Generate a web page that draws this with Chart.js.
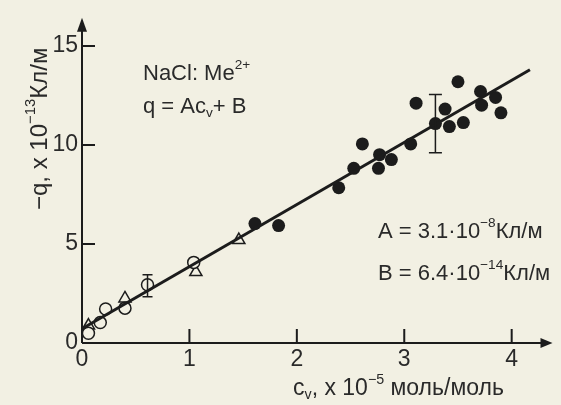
<!DOCTYPE html>
<html>
<head>
<meta charset="utf-8">
<script src="https://cdn.jsdelivr.net/npm/chart.js@4"></script>
<style>
  html, body { margin: 0; padding: 0; background: #f2f0e3; }
  canvas { display: block; }
</style>
</head>
<body>
<canvas id="chart" width="561" height="405"></canvas>
<script>
// values
const filledX = [1.61, 1.83, 2.39, 2.53, 2.61, 2.77, 2.76, 2.88, 3.06, 3.11, 3.29, 3.38, 3.42, 3.50, 3.55, 3.71, 3.72, 3.85, 3.90];
const filledY = [6.03, 5.93, 7.84, 8.82, 10.05, 9.51, 8.82, 9.26, 10.05, 12.11, 11.08, 11.81, 10.93, 13.19, 11.13, 12.70, 12.01, 12.40, 11.62];
const openX = [0.06, 0.17, 0.22, 0.40, 0.61, 1.04];
const openY = [0.49, 1.03, 1.72, 1.76, 2.94, 4.07];
const triX = [0.06, 0.40, 1.06, 1.46];
const triY = [0.88, 2.25, 3.58, 5.20];
const fitX = [0, 4.17];
const fitY = [0.72, 13.8];
const errX = [0.61, 3.29];
const errLo = [2.33, 9.61];
const errHi = [3.45, 12.55];
const xTicks = [0, 1, 2, 3, 4];
const yTicks = [0, 5, 10, 15];

const BG = '#f2f0e3';
const INK = '#1c1c1c';
const FONT = '"Liberation Sans Narrow", "Liberation Sans", sans-serif';

const pts = (xs, ys) => xs.map((x, i) => ({ x: x, y: ys[i] }));

// draw a line of text made of normal / sup / sub pieces
function drawRuns(ctx, x, y, runs, size) {
    let cx = x;
    runs.forEach(r => {
        const kind = r[1] || '';
        const s = kind ? size * 0.62 : size;
        ctx.font = s + 'px ' + FONT;
        let dy = 0;
        if (kind === 'sup') dy = -size * 0.5;
        if (kind === 'sub') dy = size * 0.18;
        ctx.fillText(r[0], cx, y + dy);
        cx += ctx.measureText(r[0]).width;
    });
}

const decorPlugin = {
    id: 'decor',
    beforeDatasetsDraw(chart) {
        const ctx = chart.ctx;
        const xs = chart.scales.x, ys = chart.scales.y;
        const a = chart.chartArea;
        const x0 = xs.getPixelForValue(0), y0 = ys.getPixelForValue(0);
        ctx.save();
        ctx.strokeStyle = INK;
        ctx.fillStyle = INK;
        ctx.lineWidth = 2;
        ctx.beginPath();
        ctx.moveTo(x0, y0);
        ctx.lineTo(a.right - 8, y0);
        ctx.moveTo(x0, y0);
        ctx.lineTo(x0, a.top + 10);
        ctx.stroke();
        // arrows
        ctx.beginPath();
        ctx.moveTo(a.right, y0);
        ctx.lineTo(a.right - 12, y0 - 5);
        ctx.lineTo(a.right - 12, y0 + 5);
        ctx.closePath();
        ctx.fill();
        ctx.beginPath();
        ctx.moveTo(x0, a.top);
        ctx.lineTo(x0 - 5, a.top + 14);
        ctx.lineTo(x0 + 5, a.top + 14);
        ctx.closePath();
        ctx.fill();
        // inward ticks
        ctx.beginPath();
        xTicks.slice(1).forEach(v => {
            const p = xs.getPixelForValue(v);
            ctx.moveTo(p, y0);
            ctx.lineTo(p, y0 - 14);
        });
        yTicks.slice(1).forEach(v => {
            const p = ys.getPixelForValue(v);
            ctx.moveTo(x0, p);
            ctx.lineTo(x0 + 13, p);
        });
        ctx.stroke();
        ctx.restore();
    },
    afterDatasetsDraw(chart) {
        const ctx = chart.ctx;
        const xs = chart.scales.x, ys = chart.scales.y;
        ctx.save();
        ctx.strokeStyle = INK;
        ctx.lineWidth = 1.5;
        ctx.beginPath();
        errX.forEach((x, i) => {
            const px = xs.getPixelForValue(x);
            const lo = ys.getPixelForValue(errLo[i]);
            const hi = ys.getPixelForValue(errHi[i]);
            const w = i === 0 ? 5 : 6.5;
            ctx.moveTo(px, lo); ctx.lineTo(px, hi);
            ctx.moveTo(px - w, lo); ctx.lineTo(px + w, lo);
            ctx.moveTo(px - w, hi); ctx.lineTo(px + w, hi);
        });
        ctx.stroke();

        ctx.fillStyle = '#2a2a2a';
        ctx.textBaseline = 'alphabetic';
        drawRuns(ctx, 143, 80, [['NaCl: Me'], ['2+', 'sup']], 22);
        drawRuns(ctx, 143, 113, [['q = Ac'], ['v', 'sub'], ['+ B']], 22);
        drawRuns(ctx, 378, 238, [['A = 3.1·10'], ['−8', 'sup'], ['Кл/м']], 22);
        drawRuns(ctx, 378, 280, [['B = 6.4·10'], ['−14', 'sup'], ['Кл/м']], 22);
        drawRuns(ctx, 293, 395, [['c'], ['v', 'sub'], [', x 10'], ['−5', 'sup'], [' моль/моль']], 23);
        ctx.translate(47, 210);
        ctx.rotate(-Math.PI / 2);
        drawRuns(ctx, 0, 0, [['−q, x 10'], ['−13', 'sup'], ['Кл/м']], 24);
        ctx.restore();
    }
};

// put the ticks exactly at the listed values
const onlyTicks = list => scale => {
    scale.ticks = list.map(v => ({ value: v }));
};

new Chart(document.getElementById('chart'), {
    type: 'scatter',
    data: {
        datasets: [
            {
                type: 'line',
                data: pts(fitX, fitY),
                borderColor: INK,
                borderWidth: 3,
                pointRadius: 0,
                clip: false
            },
            {
                data: pts(openX, openY),
                pointStyle: 'circle',
                pointRadius: 6,
                borderColor: INK,
                borderWidth: 1.5,
                backgroundColor: BG,
                clip: false
            },
            {
                data: pts(triX, triY),
                pointStyle: 'triangle',
                pointRadius: 7,
                borderColor: INK,
                borderWidth: 1.5,
                backgroundColor: BG,
                clip: false
            },
            {
                data: pts(filledX, filledY),
                pointStyle: 'circle',
                pointRadius: 6.5,
                borderColor: INK,
                borderWidth: 0,
                backgroundColor: INK,
                clip: false
            }
        ]
    },
    options: {
        responsive: false,
        animation: false,
        devicePixelRatio: 1,
        layout: { padding: { top: 8, right: 2, left: 0, bottom: 0 } },
        plugins: {
            legend: { display: false },
            tooltip: { enabled: false }
        },
        scales: {
            x: {
                type: 'linear',
                min: 0,
                max: 4.38,
                grid: { display: false, drawTicks: false },
                border: { display: false },
                ticks: {
                    stepSize: 1,
                    padding: 3,
                    color: '#2a2a2a',
                    font: { family: FONT, size: 23 }
                },
                afterBuildTicks: onlyTicks(xTicks),
                afterFit(scale) { scale.height = 62; }
            },
            y: {
                type: 'linear',
                min: 0,
                max: 16.42,
                grid: { display: false, drawTicks: false },
                border: { display: false },
                ticks: {
                    stepSize: 5,
                    padding: 4,
                    color: '#2a2a2a',
                    font: { family: FONT, size: 23 }
                },
                afterBuildTicks: onlyTicks(yTicks),
                afterFit(scale) { scale.width = 82; }
            }
        }
    },
    plugins: [decorPlugin]
});
</script>
</body>
</html>
